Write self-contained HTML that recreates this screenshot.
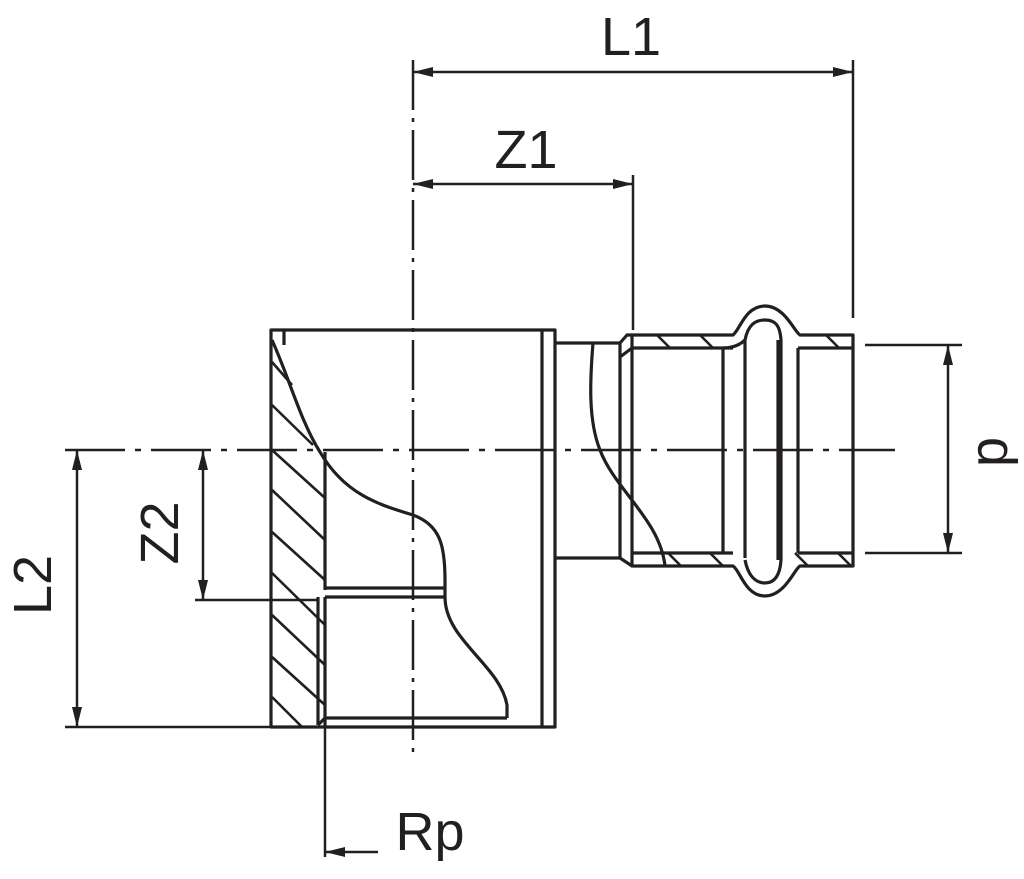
<!DOCTYPE html>
<html><head><meta charset="utf-8"><style>
html,body{margin:0;padding:0;background:#fff;}
svg{display:block;}
text{font-family:"Liberation Sans",sans-serif;fill:#231f20;}
</style></head><body>
<svg width="1024" height="879" viewBox="0 0 1024 879" xmlns="http://www.w3.org/2000/svg">
<defs>
<marker id="a" viewBox="0 0 20 10" refX="20" refY="5" markerWidth="22" markerHeight="10" markerUnits="userSpaceOnUse" orient="auto-start-reverse"><path d="M0,0 L20,5 L0,10 Z" fill="#231f20"/></marker>
</defs>
<g stroke="#231f20" stroke-width="3.2" fill="none" stroke-linejoin="round">
<rect x="271" y="330" width="284" height="397"/>
<line x1="284" y1="330" x2="284" y2="345"/>
<line x1="542" y1="330" x2="542" y2="727"/>
<path d="M272,340 C290,380 300,420 320,452 C345,495 380,505 413,515 C440,525 445,545 445,580 L445,597 C445,640 500,665 507,705 L507,718"/>
<line x1="325" y1="452" x2="325" y2="590"/>
<line x1="318" y1="597" x2="318" y2="725"/>
<line x1="325" y1="597" x2="325" y2="727"/>
<line x1="325" y1="588" x2="445" y2="588"/>
<line x1="325" y1="597" x2="445" y2="597"/>
<line x1="325" y1="718" x2="507" y2="718"/>
<line x1="318" y1="725" x2="325" y2="718"/>
<g stroke-width="2.6">
<line x1="272" y1="362" x2="292" y2="385"/>
<line x1="272" y1="405" x2="313" y2="445"/>
<line x1="272" y1="450" x2="325" y2="498"/>
<line x1="272" y1="490" x2="325" y2="540"/>
<line x1="272" y1="532" x2="325" y2="580"/>
<line x1="272" y1="573" x2="325" y2="625"/>
<line x1="272" y1="615" x2="325" y2="665"/>
<line x1="272" y1="657" x2="325" y2="705"/>
<line x1="272" y1="697" x2="302" y2="727"/>
</g>
<line x1="555" y1="343" x2="620" y2="343"/>
<line x1="555" y1="558" x2="620" y2="558"/>
<path d="M593,343 C590,380 588,420 600,450 C615,490 660,520 665,566"/>
<path d="M620,343 L627,335 L733,335 C740,330 745,306 765,306 C785,306 795,333 800,335 L853,335 L853,566 L800,566 C795,568 785,596 765,596 C745,596 740,570 733,566 L632,566 L620,558"/>
<line x1="620" y1="343" x2="620" y2="558"/>
<line x1="632" y1="348" x2="733" y2="348"/>
<line x1="798" y1="348" x2="853" y2="348"/>
<line x1="632" y1="553" x2="733" y2="553"/>
<line x1="798" y1="553" x2="853" y2="553"/>
<line x1="632" y1="335" x2="632" y2="566"/>
<line x1="620" y1="357" x2="632" y2="348"/>
<path d="M723,348 C735,348 742,343 745,340 L745,558"/>
<path d="M723,553 L723,348"/>
<path d="M745,340 C748,325 755,320 765,320 C775,320 780,325 781,340 L781,560 C780,575 775,583 765,583 C755,583 748,575 745,560"/>
<line x1="778" y1="340" x2="778" y2="560"/>
<line x1="798" y1="348" x2="798" y2="553"/>
<g stroke-width="2.6">
<line x1="657" y1="335" x2="670" y2="348"/>
<line x1="700" y1="335" x2="713" y2="348"/>
<line x1="826" y1="335" x2="839" y2="348"/>
<line x1="668" y1="553" x2="681" y2="566"/>
<line x1="710" y1="553" x2="723" y2="566"/>
<line x1="795" y1="553" x2="808" y2="566"/>
<line x1="838" y1="553" x2="851" y2="566"/>
</g>
</g>
<g stroke="#231f20" stroke-width="2.5" fill="none">
<line x1="413" y1="60" x2="413" y2="760" stroke-dasharray="50,8,4,8"/>
<line x1="65" y1="450" x2="895" y2="450" stroke-dasharray="60,10,6,10"/>
<line x1="853" y1="60" x2="853" y2="318"/>
<line x1="633" y1="175" x2="633" y2="330"/>
<line x1="413" y1="72" x2="853" y2="72" marker-start="url(#a)" marker-end="url(#a)"/>
<line x1="413" y1="184" x2="633" y2="184" marker-start="url(#a)" marker-end="url(#a)"/>
<line x1="865" y1="345" x2="962" y2="345"/>
<line x1="865" y1="553" x2="962" y2="553"/>
<line x1="948" y1="345" x2="948" y2="553" marker-start="url(#a)" marker-end="url(#a)"/>
<line x1="65" y1="727" x2="271" y2="727"/>
<line x1="195" y1="600" x2="318" y2="600"/>
<line x1="77" y1="450" x2="77" y2="727" marker-start="url(#a)" marker-end="url(#a)"/>
<line x1="203" y1="450" x2="203" y2="600" marker-start="url(#a)" marker-end="url(#a)"/>
<line x1="325" y1="727" x2="325" y2="857"/>
<line x1="378" y1="852" x2="325" y2="852" marker-end="url(#a)"/>
</g>
<text x="631" y="55" font-size="54" text-anchor="middle">L1</text>
<text x="526" y="168" font-size="54" text-anchor="middle">Z1</text>
<text x="430" y="850" font-size="54" text-anchor="middle">Rp</text>
<text transform="translate(1007,452) rotate(-90)" font-size="54" text-anchor="middle">p</text>
<text transform="translate(51,585) rotate(-90)" font-size="54" text-anchor="middle">L2</text>
<text transform="translate(178,533) rotate(-90)" font-size="54" text-anchor="middle">Z2</text>
</svg>
</body></html>
